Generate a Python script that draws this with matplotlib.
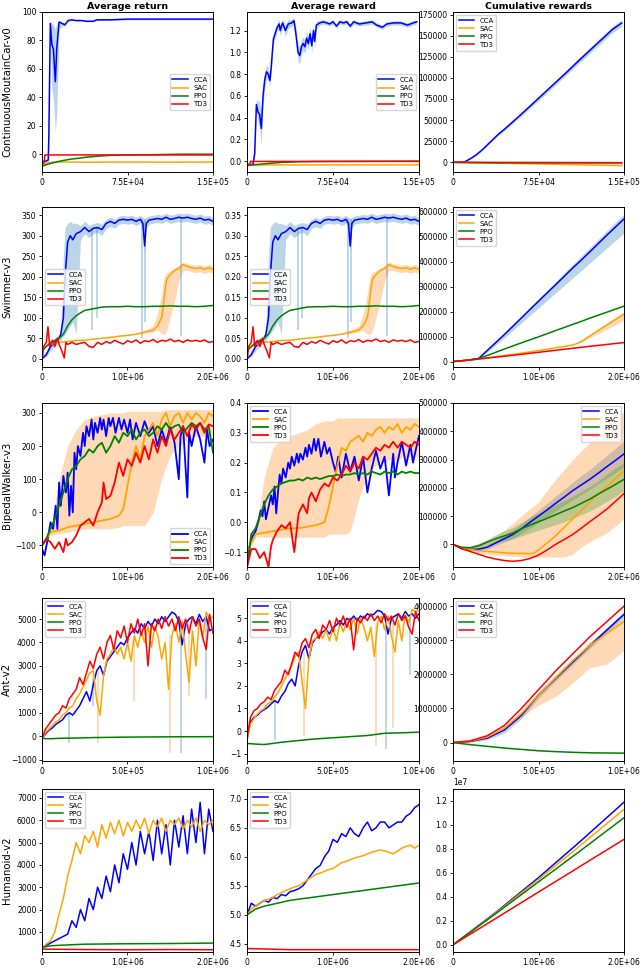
import numpy as np
import matplotlib
matplotlib.use('Agg')
import matplotlib.pyplot as plt
from matplotlib.ticker import FuncFormatter

# ---------------- ContinuousMoutainCar-v0 ----------------
mc_cca_x = [0, 3000, 5500, 6000, 7300, 8700, 10000, 11700, 13000, 15000, 17500, 20000, 23000, 26000,
            30000, 35000, 39000, 42000, 45000, 48000, 52000, 60000, 75000, 90000, 105000, 120000, 135000, 150000]
mc_cca_ret = [-5, -5, -4, 13, 92, 77, 74, 51, 75, 93, 92, 91, 94, 94.5, 94, 94, 93.5, 93.5, 93.5, 94.5,
              94.5, 94.5, 95, 95, 95, 95, 95, 95]
mc_cca_ret_lo = [-5, -5, -5, 10, 85, 45, 40, 15, 30, 88, 90, 90, 93.5, 94, 93.5, 93.5, 93, 93, 93, 94,
                 94, 94, 94.5, 94.5, 94.5, 94.5, 94.5, 94.5]
mc_cca_ret_hi = [-5, -5, -3, 16, 93, 92, 91, 88, 92, 94, 93, 92, 94.5, 95, 94.5, 94.5, 94, 94, 94, 95,
                 95, 95, 95.5, 95.5, 95.5, 95.5, 95.5, 95.5]
mc_sac_x = [0, 5000, 10000, 20000, 40000, 75000, 110000, 150000]
mc_sac_ret = [-8, -6, -5.5, -5.5, -5.6, -5.5, -5.6, -5.5]
mc_ppo_x = [0, 5000, 10000, 15000, 20000, 25000, 30000, 40000, 50000, 60000, 75000, 100000, 120000, 150000]
mc_ppo_ret = [-8.5, -7, -6, -5, -4.2, -3.5, -3, -2, -1.3, -0.8, -0.5, -0.3, 0, 0]
mc_td3_x = [0, 2000, 2500, 150000]
mc_td3_ret = [-7, -6, -0.5, -0.5]

mc_cca_rx = [0, 3000, 5200, 6700, 8200, 9600, 11000, 12500, 14000, 15500, 17000, 18500, 20000, 21000, 23000,
             26000, 28000, 29000, 31000, 33500, 36000, 39000, 41000, 42500, 44500, 46000, 47500, 49000, 50500,
             52000, 53500, 55000, 56500, 58000, 59000, 60500, 63500, 66500, 69500, 72000, 75000, 78000, 81000,
             84000, 87000, 90000, 93000, 98000, 104000, 109000, 113000, 118000, 122000, 128000, 134000, 140000,
             145000, 148000]
mc_cca_rew = [-0.03, -0.03, -0.03, 0.07, 0.52, 0.45, 0.43, 0.30, 0.60, 0.75, 0.82, 0.80, 0.74, 0.85, 1.12,
              1.22, 1.26, 1.20, 1.27, 1.20, 1.26, 1.27, 1.29, 1.18, 1.00, 0.97, 1.05, 1.08, 1.05, 1.13, 1.08,
              1.17, 1.06, 1.20, 1.10, 1.25, 1.27, 1.28, 1.27, 1.26, 1.28, 1.24, 1.28, 1.27, 1.28, 1.24, 1.28,
              1.26, 1.27, 1.28, 1.25, 1.23, 1.26, 1.27, 1.27, 1.25, 1.27, 1.28]
mc_cca_rew_sd = [0, 0, 0.02, 0.05, 0.05, 0.10, 0.12, 0.15, 0.10, 0.08, 0.06, 0.06, 0.05, 0.05, 0.05, 0.04,
                 0.04, 0.05, 0.04, 0.05, 0.04, 0.03, 0.03, 0.06, 0.08, 0.08, 0.07, 0.06, 0.06, 0.06, 0.06,
                 0.06, 0.06, 0.05, 0.05, 0.04, 0.02, 0.02, 0.02, 0.02, 0.02, 0.02, 0.02, 0.02, 0.02, 0.02,
                 0.02, 0.02, 0.02, 0.02, 0.02, 0.02, 0.02, 0.02, 0.02, 0.02, 0.02, 0.02]
mc_sac_rx = [0, 3000, 8000, 150000]
mc_sac_rew = [-0.04, -0.035, -0.035, -0.035]
mc_ppo_rx = [0, 10000, 20000, 30000, 45000, 60000, 150000]
mc_ppo_rew = [-0.04, -0.03, -0.02, -0.012, -0.006, -0.003, 0]
mc_td3_rx = [0, 2500, 3000, 150000]
mc_td3_rew = [-0.04, -0.03, -0.003, -0.003]

mc_cum_x = [0, 5000, 10000, 15000, 20000, 25000, 30000, 35000, 40000, 45000, 50000, 60000, 70000, 80000,
            90000, 100000, 110000, 120000, 130000, 140000, 148000]
mc_cum_cca = [0, 0, 500, 4000, 8500, 14000, 20500, 27000, 33500, 39000, 45000, 57000, 69500, 82000, 94500,
              107000, 120000, 132500, 145000, 157500, 165000]
mc_cum_cca_sd = [0, 0, 200, 500, 800, 1000, 1200, 1400, 1600, 1800, 2000, 2200, 2400, 2600, 2800, 3000,
                 3200, 3400, 3600, 3800, 4000]
mc_cum_sac = [0, -130, -260, -400, -530, -660, -790, -920, -1050, -1190, -1320, -1580, -1840, -2110, -2370,
              -2640, -2900, -3160, -3430, -3690, -3900]
mc_cum_ppo = [0, -150, -250, -350, -420, -480, -520, -560, -590, -610, -620, -640, -650, -660, -660, -660,
              -660, -660, -660, -660, -660]
mc_cum_td3 = [0, -20, -40, -50, -60, -80, -90, -100, -120, -140, -150, -180, -210, -240, -270, -300, -330,
              -360, -390, -420, -440]

# ---------------- Swimmer-v3 ----------------
sw_cca_x = [0, 0.05e6, 0.1e6, 0.15e6, 0.2e6, 0.22e6, 0.25e6, 0.27e6, 0.3e6, 0.33e6, 0.36e6, 0.4e6, 0.45e6,
            0.5e6, 0.55e6, 0.6e6, 0.65e6, 0.7e6, 0.75e6, 0.8e6, 0.85e6, 0.9e6, 0.95e6, 1.0e6, 1.05e6, 1.1e6,
            1.15e6, 1.18e6, 1.2e6, 1.22e6, 1.25e6, 1.3e6, 1.35e6, 1.4e6, 1.45e6, 1.5e6, 1.55e6, 1.6e6, 1.65e6,
            1.7e6, 1.75e6, 1.8e6, 1.85e6, 1.9e6, 1.95e6, 2.0e6]
sw_cca_ret = [0, 10, 30, 40, 50, 60, 100, 200, 285, 300, 290, 305, 310, 320, 310, 318, 320, 315, 330, 335,
              330, 338, 340, 338, 340, 335, 340, 330, 275, 330, 338, 340, 342, 340, 345, 340, 342, 345, 343,
              345, 342, 340, 343, 338, 340, 335]
sw_cca_ret_lo = [0, 5, 20, 30, 40, 45, 55, 60, 70, 80, 90, 60, 290, 305, 295, 305, 308, 300, 318, 322, 318,
                 328, 330, 328, 330, 325, 330, 320, 260, 320, 328, 330, 332, 330, 335, 330, 332, 335, 333, 335,
                 332, 330, 333, 328, 330, 325]
sw_cca_ret_hi = [5, 20, 40, 50, 60, 80, 250, 320, 330, 335, 330, 330, 325, 335, 325, 330, 332, 328, 340, 345,
                 340, 348, 350, 348, 350, 345, 350, 345, 340, 345, 348, 350, 352, 350, 355, 350, 352, 355, 353,
                 355, 352, 350, 353, 348, 350, 345]
sw_cca_rew = [0.000, 0.010, 0.030, 0.040, 0.050, 0.060, 0.100, 0.200, 0.285, 0.300, 0.290, 0.305, 0.310,
              0.320, 0.310, 0.318, 0.320, 0.315, 0.330, 0.335, 0.330, 0.338, 0.340, 0.338, 0.340, 0.335, 0.340,
              0.330, 0.275, 0.330, 0.338, 0.340, 0.342, 0.340, 0.345, 0.340, 0.342, 0.345, 0.343, 0.345, 0.342,
              0.340, 0.343, 0.338, 0.340, 0.335]
sw_cca_rew_lo = [0.000, 0.005, 0.020, 0.030, 0.040, 0.045, 0.055, 0.060, 0.070, 0.080, 0.090, 0.060, 0.290,
                 0.305, 0.295, 0.305, 0.308, 0.300, 0.318, 0.322, 0.318, 0.328, 0.330, 0.328, 0.330, 0.325,
                 0.330, 0.320, 0.260, 0.320, 0.328, 0.330, 0.332, 0.330, 0.335, 0.330, 0.332, 0.335, 0.333,
                 0.335, 0.332, 0.330, 0.333, 0.328, 0.330, 0.325]
sw_cca_rew_hi = [0.005, 0.020, 0.040, 0.050, 0.060, 0.080, 0.250, 0.320, 0.330, 0.335, 0.330, 0.330, 0.325,
                 0.335, 0.325, 0.330, 0.332, 0.328, 0.340, 0.345, 0.340, 0.348, 0.350, 0.348, 0.350, 0.345,
                 0.350, 0.345, 0.340, 0.345, 0.348, 0.350, 0.352, 0.350, 0.355, 0.350, 0.352, 0.355, 0.353,
                 0.355, 0.352, 0.350, 0.353, 0.348, 0.350, 0.345]
sw_spike_x = [0.59e6, 0.64e6, 1.17e6, 1.21e6, 1.63e6]
sw_spike_ret_lo = [70, 100, 50, 90, 55]
sw_spike_ret_hi = [320, 322, 340, 340, 345]
sw_spike_rew_lo = [0.070, 0.100, 0.050, 0.090, 0.055]
sw_spike_rew_hi = [0.320, 0.322, 0.340, 0.340, 0.345]

sw_sac_x = [0, 0.05e6, 0.1e6, 0.2e6, 0.3e6, 0.4e6, 0.5e6, 0.6e6, 0.7e6, 0.8e6, 0.9e6, 1.0e6, 1.1e6, 1.2e6,
            1.3e6, 1.35e6, 1.4e6, 1.42e6, 1.44e6, 1.46e6, 1.5e6, 1.55e6, 1.6e6, 1.65e6, 1.7e6, 1.75e6, 1.8e6,
            1.85e6, 1.9e6, 1.95e6, 2.0e6]
sw_sac_ret = [20, 30, 35, 40, 42, 45, 45, 48, 50, 52, 55, 57, 60, 65, 70, 80, 100, 130, 170, 195, 205, 215,
              220, 230, 225, 222, 220, 222, 218, 222, 218]
sw_sac_ret_lo = [20, 30, 35, 40, 42, 45, 45, 48, 50, 52, 55, 57, 60, 62, 65, 70, 60, 60, 60, 70, 100, 140,
                 190, 215, 215, 212, 210, 212, 208, 212, 208]
sw_sac_ret_hi = [20, 30, 35, 40, 42, 45, 45, 48, 50, 52, 55, 57, 60, 70, 80, 110, 160, 190, 205, 210, 215,
                 222, 228, 235, 232, 230, 228, 230, 226, 230, 226]
sw_sac_rew = [0.020, 0.030, 0.035, 0.040, 0.042, 0.045, 0.045, 0.048, 0.050, 0.052, 0.055, 0.057, 0.060,
              0.065, 0.070, 0.080, 0.100, 0.130, 0.170, 0.195, 0.205, 0.215, 0.220, 0.230, 0.225, 0.222, 0.220,
              0.222, 0.218, 0.222, 0.218]
sw_sac_rew_lo = [0.020, 0.030, 0.035, 0.040, 0.042, 0.045, 0.045, 0.048, 0.050, 0.052, 0.055, 0.057, 0.060,
                 0.062, 0.065, 0.070, 0.060, 0.060, 0.060, 0.070, 0.100, 0.140, 0.190, 0.215, 0.215, 0.212,
                 0.210, 0.212, 0.208, 0.212, 0.208]
sw_sac_rew_hi = [0.020, 0.030, 0.035, 0.040, 0.042, 0.045, 0.045, 0.048, 0.050, 0.052, 0.055, 0.057, 0.060,
                 0.070, 0.080, 0.110, 0.160, 0.190, 0.205, 0.210, 0.215, 0.222, 0.228, 0.235, 0.232, 0.230,
                 0.228, 0.230, 0.226, 0.230, 0.226]
sw_ppo_x = [0, 0.1e6, 0.2e6, 0.25e6, 0.3e6, 0.35e6, 0.4e6, 0.45e6, 0.5e6, 0.55e6, 0.6e6, 0.7e6, 0.8e6, 0.9e6,
            1.0e6, 1.1e6, 1.2e6, 1.3e6, 1.4e6, 1.5e6, 1.6e6, 1.7e6, 1.8e6, 1.9e6, 2.0e6]
sw_ppo_ret = [20, 40, 50, 60, 80, 95, 105, 112, 118, 120, 122, 126, 127, 127, 128, 127, 127, 128, 128, 129,
              128, 128, 127, 128, 130]
sw_ppo_rew = [0.020, 0.040, 0.050, 0.060, 0.080, 0.095, 0.105, 0.112, 0.118, 0.120, 0.122, 0.126, 0.127,
              0.127, 0.128, 0.127, 0.127, 0.128, 0.128, 0.129, 0.128, 0.128, 0.127, 0.128, 0.130]
sw_td3_x = [0, 0.02e6, 0.05e6, 0.07e6, 0.09e6, 0.12e6, 0.15e6, 0.18e6, 0.2e6, 0.23e6, 0.26e6, 0.28e6, 0.3e6,
            0.35e6, 0.4e6, 0.45e6, 0.5e6, 0.55e6, 0.6e6, 0.65e6, 0.7e6, 0.75e6, 0.8e6, 0.85e6, 0.9e6, 0.95e6,
            1.0e6, 1.05e6, 1.1e6, 1.15e6, 1.2e6, 1.25e6, 1.3e6, 1.35e6, 1.4e6, 1.45e6, 1.5e6, 1.55e6, 1.6e6,
            1.65e6, 1.7e6, 1.75e6, 1.8e6, 1.85e6, 1.9e6, 1.95e6, 2.0e6]
sw_td3_ret = [-5, 30, 40, 78, 30, 45, 30, 50, 35, 20, 2, 40, 35, 40, 35, 38, 40, 30, 28, 40, 35, 42, 38, 45,
              40, 36, 44, 40, 46, 38, 44, 42, 47, 40, 45, 43, 48, 42, 45, 40, 46, 43, 45, 42, 46, 40, 42]
sw_td3_rew = [-0.005, 0.030, 0.040, 0.078, 0.030, 0.045, 0.030, 0.050, 0.035, 0.020, 0.002, 0.040, 0.035,
              0.040, 0.035, 0.038, 0.040, 0.030, 0.028, 0.040, 0.035, 0.042, 0.038, 0.045, 0.040, 0.036, 0.044,
              0.040, 0.046, 0.038, 0.044, 0.042, 0.047, 0.040, 0.045, 0.043, 0.048, 0.042, 0.045, 0.040, 0.046,
              0.043, 0.045, 0.042, 0.046, 0.040, 0.042]

sw_cum_x = [0, 0.1e6, 0.2e6, 0.3e6, 0.4e6, 0.6e6, 0.8e6, 1.0e6, 1.2e6, 1.4e6, 1.45e6, 1.5e6, 1.6e6, 1.8e6, 2.0e6]
sw_cum_cca = [0, 3000, 7000, 12000, 44000, 108000, 175000, 242000, 308000, 375000, 391000, 407000, 440000,
              507000, 572000]
sw_cum_cca_lo = [0, 3000, 7000, 11000, 38000, 95000, 155000, 215000, 275000, 335000, 350000, 365000, 395000,
                 455000, 515000]
sw_cum_cca_hi = [0, 3000, 7000, 13000, 47000, 113000, 182000, 252000, 320000, 390000, 406000, 423000, 457000,
                 525000, 592000]
sw_cum_ppo = [0, 3000, 7000, 12000, 24000, 50000, 75000, 99000, 124000, 149000, 155000, 161000, 174000,
              198000, 222000]
sw_cum_sac = [0, 3000, 6000, 10000, 14500, 24000, 33500, 44000, 55000, 66000, 72000, 80000, 103000, 147000,
              190000]
sw_cum_sac_lo = [0, 3000, 6000, 10000, 14500, 24000, 33500, 44000, 55000, 66000, 72000, 77000, 95000, 130000,
                 165000]
sw_cum_sac_hi = [0, 3000, 6000, 10000, 14500, 24000, 33500, 44000, 55000, 66000, 72000, 82000, 108000,
                 155000, 200000]
sw_cum_td3 = [0, 2500, 6000, 10000, 14000, 21000, 29000, 37000, 45000, 53000, 55000, 57000, 61000, 68500, 76000]

# ---------------- BipedalWalker-v3 ----------------
bw_cca_x = [0, 0.03e6, 0.06e6, 0.1e6, 0.13e6, 0.16e6, 0.18e6, 0.2e6, 0.22e6, 0.25e6, 0.28e6, 0.3e6, 0.32e6,
            0.34e6, 0.36e6, 0.38e6, 0.4e6, 0.42e6, 0.45e6, 0.48e6, 0.5e6, 0.52e6, 0.55e6, 0.58e6, 0.6e6, 0.62e6,
            0.65e6, 0.68e6, 0.7e6, 0.72e6, 0.75e6, 0.78e6, 0.8e6, 0.83e6, 0.86e6, 0.9e6, 0.93e6, 0.96e6, 1.0e6,
            1.03e6, 1.06e6, 1.1e6, 1.15e6, 1.2e6, 1.25e6, 1.3e6, 1.35e6, 1.4e6, 1.45e6, 1.5e6, 1.55e6, 1.6e6,
            1.62e6, 1.65e6, 1.7e6, 1.72e6, 1.75e6, 1.8e6, 1.85e6, 1.9e6, 1.93e6, 1.96e6, 2.0e6]
bw_cca_ret = [-110, -130, -90, -30, -50, 20, -50, 90, 20, 110, 60, 120, -10, 80, 0, 180, 130, 200, 170, 240,
              200, 260, 230, 280, 220, 270, 240, 285, 250, 280, 230, 285, 260, 285, 240, 285, 250, 280, 240,
              280, 220, 270, 230, 275, 240, 260, 200, 250, 210, 260, 210, 100, 230, 260, 45, 240, 200, 260,
              220, 150, 250, 200, 220]
bw_cca_rew = [-0.15, -0.08, -0.05, -0.03, 0.0, 0.04, 0.02, 0.07, 0.01, 0.05, 0.09, 0.06, 0.12, 0.03, 0.10,
              0.16, 0.13, 0.18, 0.15, 0.20, 0.18, 0.22, 0.19, 0.23, 0.20, 0.23, 0.21, 0.25, 0.22, 0.26, 0.23,
              0.28, 0.24, 0.28, 0.22, 0.27, 0.23, 0.25, 0.20, 0.17, 0.22, 0.15, 0.23, 0.17, 0.22, 0.14, 0.22,
              0.10, 0.18, 0.24, 0.18, 0.22, 0.17, 0.09, 0.23, 0.15, 0.20, 0.27, 0.19, 0.26, 0.20, 0.24, 0.29]
bw_sac_x = [0, 0.1e6, 0.2e6, 0.3e6, 0.4e6, 0.5e6, 0.6e6, 0.7e6, 0.8e6, 0.9e6, 0.95e6, 1.0e6, 1.05e6, 1.1e6,
            1.15e6, 1.2e6, 1.25e6, 1.3e6, 1.35e6, 1.4e6, 1.45e6, 1.5e6, 1.55e6, 1.6e6, 1.65e6, 1.7e6, 1.75e6,
            1.8e6, 1.85e6, 1.9e6, 1.95e6, 2.0e6]
bw_sac_ret = [-100, -60, -55, -45, -40, -35, -30, -25, -20, -10, 10, 80, 150, 200, 160, 230, 250, 270, 230,
              280, 300, 260, 290, 300, 270, 300, 280, 300, 290, 270, 300, 290]
bw_sac_ret_lo = [-100, -70, -65, -60, -55, -50, -50, -50, -50, -45, -40, -40, -40, -40, -40, -40, -20, 0, 50,
                 100, 140, 170, 190, 200, 210, 220, 225, 230, 230, 230, 230, 230]
bw_sac_ret_hi = [-100, -50, 100, 200, 250, 280, 290, 295, 300, 300, 300, 305, 305, 305, 305, 305, 305, 305,
                 305, 305, 310, 310, 310, 310, 310, 310, 310, 310, 310, 310, 310, 310]
bw_sac_rew = [-0.10, -0.04, -0.035, -0.03, -0.025, -0.02, -0.02, -0.015, -0.01, 0.0, 0.05, 0.12, 0.19, 0.25,
              0.24, 0.27, 0.28, 0.29, 0.27, 0.30, 0.29, 0.31, 0.32, 0.30, 0.32, 0.31, 0.33, 0.30, 0.32, 0.31,
              0.33, 0.32]
bw_sac_rew_lo = [-0.10, -0.05, -0.05, -0.05, -0.05, -0.05, -0.05, -0.05, -0.05, -0.05, -0.04, -0.04, -0.04,
                 -0.04, -0.04, -0.03, 0.02, 0.08, 0.12, 0.16, 0.18, 0.19, 0.20, 0.20, 0.21, 0.21, 0.21, 0.22,
                 0.22, 0.22, 0.22, 0.22]
bw_sac_rew_hi = [-0.10, -0.03, 0.15, 0.25, 0.28, 0.29, 0.30, 0.31, 0.33, 0.34, 0.34, 0.34, 0.35, 0.35, 0.35,
                 0.35, 0.35, 0.35, 0.35, 0.35, 0.35, 0.35, 0.35, 0.35, 0.35, 0.35, 0.35, 0.35, 0.35, 0.35,
                 0.35, 0.35]
bw_ppo_x = [0, 0.05e6, 0.1e6, 0.15e6, 0.2e6, 0.25e6, 0.3e6, 0.35e6, 0.4e6, 0.45e6, 0.5e6, 0.55e6, 0.6e6,
            0.65e6, 0.7e6, 0.75e6, 0.8e6, 0.85e6, 0.9e6, 0.95e6, 1.0e6, 1.05e6, 1.1e6, 1.15e6, 1.2e6, 1.25e6,
            1.3e6, 1.35e6, 1.4e6, 1.45e6, 1.5e6, 1.55e6, 1.6e6, 1.65e6, 1.7e6, 1.75e6, 1.8e6, 1.85e6, 1.9e6,
            1.95e6, 2.0e6]
bw_ppo_ret = [-100, -80, -50, -20, 20, 60, 100, 130, 140, 160, 170, 190, 180, 200, 210, 180, 200, 230, 210,
              240, 230, 250, 220, 240, 250, 230, 240, 260, 250, 270, 250, 260, 265, 240, 255, 270, 260, 270,
              250, 260, 180]
bw_ppo_rew = [-0.15, -0.04, -0.02, 0.02, 0.06, 0.09, 0.11, 0.12, 0.13, 0.135, 0.14, 0.14, 0.145, 0.14, 0.15,
              0.145, 0.15, 0.145, 0.15, 0.155, 0.155, 0.16, 0.155, 0.16, 0.16, 0.165, 0.16, 0.165, 0.16, 0.17,
              0.165, 0.16, 0.17, 0.165, 0.17, 0.16, 0.17, 0.165, 0.17, 0.165, 0.165]
bw_td3_x = [0, 0.05e6, 0.1e6, 0.15e6, 0.2e6, 0.25e6, 0.28e6, 0.3e6, 0.35e6, 0.4e6, 0.45e6, 0.5e6, 0.55e6,
            0.6e6, 0.65e6, 0.7e6, 0.72e6, 0.75e6, 0.8e6, 0.85e6, 0.9e6, 0.95e6, 1.0e6, 1.05e6, 1.1e6, 1.15e6,
            1.2e6, 1.25e6, 1.3e6, 1.35e6, 1.4e6, 1.45e6, 1.5e6, 1.55e6, 1.6e6, 1.65e6, 1.7e6, 1.75e6, 1.8e6,
            1.85e6, 1.9e6, 1.95e6, 2.0e6]
bw_td3_ret = [-100, -80, -90, -110, -90, -120, -80, -100, -90, -70, -40, -30, -20, -40, 0, 30, 90, 40, 50,
              90, 150, 110, 160, 140, 180, 150, 200, 160, 220, 180, 230, 200, 250, 220, 240, 260, 230, 265, 250,
              270, 240, 265, 260]
bw_td3_rew = [-0.15, -0.09, -0.09, -0.12, -0.10, -0.15, -0.08, -0.06, -0.03, -0.01, -0.02, 0.0, -0.10, 0.03,
              0.06, 0.03, 0.08, 0.10, 0.07, 0.11, 0.13, 0.12, 0.15, 0.14, 0.16, 0.19, 0.17, 0.20, 0.18, 0.22,
              0.21, 0.23, 0.25, 0.24, 0.26, 0.25, 0.27, 0.25, 0.27, 0.26, 0.25, 0.27, 0.26]

bw_cum_x = [0, 0.1e6, 0.2e6, 0.3e6, 0.4e6, 0.5e6, 0.6e6, 0.7e6, 0.8e6, 0.9e6, 0.95e6, 1.0e6, 1.1e6, 1.2e6,
            1.3e6, 1.4e6, 1.5e6, 1.6e6, 1.7e6, 1.8e6, 1.9e6, 2.0e6]
bw_cum_cca = [0, -15000, -18000, -17000, -10000, 5000, 20000, 35000, 55000, 78000, 89000, 100000, 122000,
              145000, 167000, 190000, 210000, 230000, 252000, 275000, 297000, 320000]
bw_cum_cca_lo = [0, -17000, -22000, -22000, -17000, -5000, 8000, 20000, 38000, 58000, 68000, 78000, 98000,
                 118000, 138000, 158000, 176000, 194000, 214000, 234000, 254000, 274000]
bw_cum_cca_hi = [0, -13000, -14000, -10000, -2000, 15000, 33000, 50000, 72000, 97000, 109000, 121000, 145000,
                 170000, 195000, 220000, 243000, 265000, 290000, 315000, 340000, 365000]
bw_cum_ppo = [0, -10000, -12000, -5000, 8000, 20000, 30000, 40000, 55000, 68000, 74000, 80000, 92000, 105000,
              118000, 130000, 145000, 160000, 178000, 195000, 212000, 230000]
bw_cum_ppo_lo = [0, -12000, -16000, -12000, -3000, 5000, 12000, 20000, 30000, 40000, 45000, 50000, 60000,
                 70000, 80000, 92000, 105000, 118000, 135000, 152000, 170000, 190000]
bw_cum_ppo_hi = [0, -8000, -8000, 2000, 18000, 35000, 48000, 60000, 78000, 95000, 103000, 110000, 125000,
                 140000, 155000, 170000, 188000, 205000, 225000, 248000, 270000, 290000]
bw_cum_sac = [0, -12000, -18000, -22000, -25000, -27000, -30000, -31000, -32000, -33000, -30000, -20000, 5000,
              30000, 60000, 90000, 120000, 150000, 178000, 205000, 232000, 260000]
bw_cum_sac_lo = [0, -15000, -25000, -30000, -35000, -38000, -40000, -42000, -45000, -45000, -45000, -45000,
                 -45000, -45000, -45000, -35000, -10000, 10000, 25000, 40000, 65000, 90000]
bw_cum_sac_hi = [0, -8000, -5000, 5000, 15000, 30000, 50000, 75000, 100000, 125000, 137000, 150000, 190000,
                 230000, 265000, 300000, 330000, 360000, 390000, 420000, 445000, 470000]
bw_cum_td3 = [0, -15000, -25000, -35000, -45000, -52000, -57000, -60000, -57000, -50000, -44000, -38000,
              -20000, 0, 17000, 35000, 57000, 80000, 102000, 125000, 152000, 180000]

# ---------------- Ant-v2 ----------------
an_x = [0, 0.02e6, 0.04e6, 0.06e6, 0.08e6, 0.1e6, 0.12e6, 0.14e6, 0.16e6, 0.18e6, 0.2e6, 0.22e6, 0.24e6,
        0.26e6, 0.28e6, 0.3e6, 0.32e6, 0.34e6, 0.36e6, 0.38e6, 0.4e6, 0.42e6, 0.44e6, 0.46e6, 0.48e6, 0.5e6,
        0.52e6, 0.54e6, 0.56e6, 0.58e6, 0.6e6, 0.62e6, 0.64e6, 0.66e6, 0.68e6, 0.7e6, 0.72e6, 0.74e6, 0.76e6,
        0.78e6, 0.8e6, 0.82e6, 0.84e6, 0.86e6, 0.88e6, 0.9e6, 0.92e6, 0.94e6, 0.96e6, 0.98e6, 1.0e6]
an_cca_ret = [-100, 100, 250, 350, 500, 600, 700, 900, 1000, 900, 1100, 1300, 1600, 1900, 1500, 2200, 2800,
              3000, 2600, 3200, 3400, 3600, 3800, 4000, 3900, 4200, 4400, 4600, 4400, 4800, 4600, 4900, 4700,
              5000, 4800, 5100, 4900, 5100, 5300, 5200, 4900, 3900, 4800, 5000, 5100, 4800, 5200, 4900, 5100,
              4500, 4600]
an_sac_ret = [-100, 150, 300, 450, 600, 700, 900, 1000, 1200, 1300, 1600, 1800, 2100, 2400, 2700, 2800, 1500,
              900, 2600, 3300, 3500, 3800, 3500, 3800, 3300, 4000, 3200, 4300, 3800, 4500, 4000, 4700, 3800,
              4700, 4200, 3300, 4000, 2000, 4300, 4800, 4000, 4900, 3500, 2300, 4500, 3000, 5000, 4200, 5300,
              5000, 5100]
an_td3_ret = [-100, 300, 500, 700, 900, 1000, 1300, 1200, 1600, 1800, 2000, 2500, 2200, 2700, 3200, 2900,
              3500, 3800, 3300, 4000, 4300, 3700, 4500, 4200, 4700, 4000, 4800, 4400, 5000, 4300, 4800, 3000,
              4800, 4500, 5000, 4600, 5100, 4700, 5000, 4500, 5100, 4600, 5000, 4400, 5100, 4700, 5000, 4200,
              3700, 5200, 4400]
an_ppo_x = [0, 0.05e6, 0.1e6, 0.2e6, 0.3e6, 0.4e6, 0.5e6, 0.6e6, 0.7e6, 0.8e6, 0.9e6, 1.0e6]
an_ppo_ret = [-100, -110, -90, -80, -60, -50, -40, -35, -30, -25, -25, -20]
an_cca_spike_x = [0.16e6, 0.3e6, 0.815e6, 0.96e6]
an_cca_spike_ret = [-300, 1300, -700, 1600]
an_cca_spike_ret_hi = [1000, 2500, 5000, 5100]
an_sac_spike_x = [0.33e6, 0.54e6, 0.75e6, 0.86e6]
an_sac_spike_ret = [-300, 1500, -700, 1700]
an_sac_spike_ret_hi = [2800, 4200, 4300, 4800]

an_cca_rew = [-0.4, 0.4, 0.6, 0.7, 0.85, 0.95, 1.05, 1.2, 1.35, 1.25, 1.55, 1.75, 2.1, 2.3, 2.0, 2.9, 3.5,
              3.8, 3.2, 3.9, 4.1, 4.2, 4.4, 4.5, 4.3, 4.6, 4.7, 4.9, 4.7, 5.0, 4.9, 5.1, 4.9, 5.1, 5.0, 5.2,
              5.1, 5.2, 5.35, 5.3, 5.1, 4.3, 5.0, 5.1, 5.2, 5.0, 5.3, 5.1, 5.2, 5.0, 5.2]
an_sac_rew = [-0.4, 0.3, 0.55, 0.75, 0.9, 1.0, 1.2, 1.3, 1.5, 1.7, 2.0, 2.3, 2.6, 2.9, 3.3, 3.5, 2.2, 1.0,
              3.2, 4.0, 4.1, 4.4, 4.1, 4.5, 4.0, 4.6, 4.0, 4.8, 4.4, 4.9, 4.5, 5.0, 4.3, 5.0, 4.6, 4.0, 4.6,
              3.3, 4.8, 5.1, 4.5, 5.1, 4.2, 3.5, 4.9, 4.0, 5.2, 4.8, 5.4, 5.3, 5.35]
an_td3_rew = [-0.3, 0.6, 0.9, 1.0, 1.2, 1.3, 1.5, 1.4, 1.8, 2.0, 2.2, 2.7, 2.5, 3.0, 3.5, 3.3, 3.9, 4.1, 3.7,
              4.3, 4.5, 4.1, 4.7, 4.5, 4.9, 4.4, 5.0, 4.7, 5.1, 4.6, 5.0, 3.6, 5.0, 4.8, 5.1, 4.9, 5.2, 4.9,
              5.1, 4.8, 5.2, 4.9, 5.1, 4.7, 5.2, 4.9, 5.1, 4.6, 4.3, 5.3, 4.9]
an_ppo_rew = [-0.55, -0.58, -0.6, -0.5, -0.42, -0.35, -0.3, -0.25, -0.2, -0.1, -0.08, -0.05]
an_cca_spike_rx = [0.16e6, 0.81e6, 0.95e6]
an_cca_spike_rew = [-0.4, -0.8, 2.5]
an_cca_spike_rew_hi = [1.35, 5.1, 5.2]
an_sac_spike_rx = [0.33e6, 0.75e6, 0.85e6]
an_sac_spike_rew = [-0.2, -0.65, 0.15]
an_sac_spike_rew_hi = [3.5, 4.8, 4.9]

an_cum_x = [0, 0.1e6, 0.2e6, 0.3e6, 0.4e6, 0.5e6, 0.6e6, 0.7e6, 0.8e6, 0.9e6, 1.0e6]
an_cum_cca = [0, 30000, 130000, 370000, 800000, 1400000, 1880000, 2360000, 2840000, 3300000, 3760000]
an_cum_cca_lo = [0, 20000, 80000, 280000, 700000, 1300000, 1800000, 2280000, 2760000, 3220000, 3680000]
an_cum_cca_hi = [0, 40000, 160000, 420000, 860000, 1460000, 1960000, 2440000, 2920000, 3380000, 3840000]
an_cum_sac = [0, 40000, 160000, 420000, 850000, 1400000, 1900000, 2400000, 2850000, 3200000, 3550000]
an_cum_sac_lo = [0, 30000, 130000, 370000, 750000, 1100000, 1350000, 1750000, 2200000, 2300000, 2700000]
an_cum_sac_hi = [0, 50000, 190000, 470000, 920000, 1480000, 1980000, 2480000, 2950000, 3330000, 3680000]
an_cum_td3 = [0, 50000, 200000, 500000, 1000000, 1550000, 2100000, 2600000, 3100000, 3550000, 4000000]
an_cum_ppo = [0, -60000, -110000, -160000, -200000, -240000, -265000, -285000, -300000, -305000, -310000]

# ---------------- Humanoid-v2 ----------------
hu_x = [0, 0.05e6, 0.1e6, 0.15e6, 0.2e6, 0.25e6, 0.3e6, 0.35e6, 0.4e6, 0.45e6, 0.5e6, 0.55e6, 0.6e6, 0.65e6,
        0.7e6, 0.75e6, 0.8e6, 0.85e6, 0.9e6, 0.95e6, 1.0e6, 1.05e6, 1.1e6, 1.15e6, 1.2e6, 1.25e6, 1.3e6,
        1.35e6, 1.4e6, 1.45e6, 1.5e6, 1.55e6, 1.6e6, 1.65e6, 1.7e6, 1.75e6, 1.8e6, 1.85e6, 1.9e6, 1.95e6, 2.0e6]
hu_cca_ret = [300, 400, 500, 600, 700, 800, 900, 1500, 1200, 2000, 1500, 2500, 2000, 3000, 2500, 3500, 2800,
              4000, 3200, 4500, 3800, 5000, 4000, 5500, 4500, 5500, 4200, 6000, 4500, 5800, 4000, 6000, 4800,
              6200, 4500, 6500, 5000, 6800, 4500, 6500, 5500]
hu_sac_ret = [300, 450, 600, 1000, 1800, 2500, 3500, 4200, 5000, 4500, 5300, 5000, 5500, 4800, 5800, 5200,
              5900, 5400, 6000, 5300, 5900, 5500, 6000, 5600, 6100, 5400, 6000, 5700, 6100, 5500, 6000, 5800,
              6100, 5600, 6000, 5700, 6100, 5500, 6000, 5800, 6000]
hu_ppo_x = [0, 0.1e6, 0.2e6, 0.5e6, 1.0e6, 1.5e6, 2.0e6]
hu_ppo_ret = [300, 380, 400, 450, 470, 480, 500]
hu_td3_x = [0, 0.5e6, 1.0e6, 1.5e6, 2.0e6]
hu_td3_ret = [230, 210, 200, 210, 200]

hu_cca_rew = [5.0, 5.2, 5.15, 5.2, 5.25, 5.22, 5.3, 5.28, 5.35, 5.33, 5.4, 5.42, 5.45, 5.5, 5.6, 5.7, 5.8,
              5.85, 6.0, 6.1, 6.3, 6.25, 6.4, 6.35, 6.5, 6.4, 6.35, 6.5, 6.6, 6.45, 6.5, 6.6, 6.6, 6.5, 6.55,
              6.6, 6.6, 6.7, 6.75, 6.85, 6.9]
hu_sac_rew = [5.0, 5.1, 5.15, 5.2, 5.25, 5.27, 5.3, 5.35, 5.38, 5.42, 5.45, 5.48, 5.5, 5.55, 5.6, 5.65, 5.7,
              5.72, 5.75, 5.78, 5.8, 5.85, 5.9, 5.92, 5.95, 5.98, 6.0, 6.02, 6.05, 6.08, 6.1, 6.12, 6.1, 6.08,
              6.05, 6.1, 6.15, 6.18, 6.2, 6.15, 6.2]
hu_ppo_rew = [5.0, 5.1, 5.15, 5.25, 5.35, 5.45, 5.55]
hu_td3_rew = [4.42, 4.4, 4.4, 4.4, 4.4]

hu_cum_x = [0, 0.5e6, 1.0e6, 1.5e6, 2.0e6]
hu_cum_cca = [0, 2.7e6, 5.6e6, 8.7e6, 11.9e6]
hu_cum_sac = [0, 2.65e6, 5.45e6, 8.35e6, 11.3e6]
hu_cum_ppo = [0, 2.6e6, 5.25e6, 7.9e6, 10.6e6]
hu_cum_td3 = [0, 2.2e6, 4.4e6, 6.6e6, 8.8e6]

# ---------------- labels ----------------
col_titles = ["Average return", "Average reward", "Cumulative rewards"]
env_names = ["ContinuousMoutainCar-v0", "Swimmer-v3", "BipedalWalker-v3", "Ant-v2", "Humanoid-v2"]

# ---------------- drawing ----------------
LINE = {'CCA': 'blue', 'SAC': 'orange', 'PPO': 'green', 'TD3': 'red'}
BAND = {'CCA': '#1f77b4', 'SAC': '#ff7f0e', 'PPO': '#2ca02c'}
TICK_FS = 5.5
W, H = 640, 969
fig = plt.figure(figsize=(6.4, 9.69), dpi=100)
col_px = [(42, 213), (247, 419), (453, 624)]
row_px = [(12, 172), (207, 367), (403, 567), (598, 761), (789, 952)]


def make_ax(r, c):
    x0, x1 = col_px[c]
    y0, y1 = row_px[r]
    return fig.add_axes([x0 / W, 1 - y1 / H, (x1 - x0) / W, (y1 - y0) / H])


def xfmt(v, pos):
    return '0' if abs(v) < 1e-9 else '{:.1E}'.format(v)


def ifmt(v, pos):
    return '{:d}'.format(int(round(v)))


def panel(r, c, lines, bands=(), spikes=(), xmax=2e6, xticks=(0, 1e6, 2e6), ylim=None, yticks=None,
          loc='upper left', lw=1.1, plain=True, legend=True):
    ax = make_ax(r, c)
    for (x, lo, hi, name) in bands:
        ax.fill_between(x, lo, hi, color=BAND[name], alpha=0.3, lw=0)
    for (xs, lo, hi, name) in spikes:
        ax.vlines(xs, lo, hi, color=BAND[name], alpha=0.3, lw=1.4)
    for (x, y, name) in lines:
        ax.plot(x, y, color=LINE[name], lw=lw, label=name)
    ax.set_xlim(0, xmax)
    ax.set_xticks(list(xticks))
    ax.xaxis.set_major_formatter(FuncFormatter(xfmt))
    if ylim is not None:
        ax.set_ylim(*ylim)
    if yticks is not None:
        ax.set_yticks(list(yticks))
    if plain:
        ax.ticklabel_format(axis='y', style='plain', useOffset=False)
    ax.tick_params(labelsize=TICK_FS, length=2.5, width=0.6, pad=1.5)
    for s in ax.spines.values():
        s.set_linewidth(0.7)
    if legend:
        ax.legend(loc=loc, fontsize=5, handlelength=2.2, borderpad=0.4, labelspacing=0.3,
                  handletextpad=0.8, borderaxespad=0.4, frameon=True, fancybox=True)
    if r == 0:
        ax.set_title(col_titles[c], fontsize=6.8, fontweight='bold', pad=2)
    if c == 0:
        ax.set_ylabel(env_names[r], fontsize=7.3)
        ax.yaxis.set_label_coords(-0.175, 0.5)
    return ax


# Row 1: MountainCar
mcx = dict(xmax=1.5e5, xticks=(0, 7.5e4, 1.5e5))
panel(0, 0, [(mc_cca_x, mc_cca_ret, 'CCA'), (mc_sac_x, mc_sac_ret, 'SAC'), (mc_ppo_x, mc_ppo_ret, 'PPO'),
             (mc_td3_x, mc_td3_ret, 'TD3')],
      bands=[(mc_cca_x, mc_cca_ret_lo, mc_cca_ret_hi, 'CCA')],
      ylim=(-12.5, 100), yticks=range(0, 101, 20), loc='center right', **mcx)
rew = np.array(mc_cca_rew)
sd = np.array(mc_cca_rew_sd)
panel(0, 1, [(mc_cca_rx, mc_cca_rew, 'CCA'), (mc_sac_rx, mc_sac_rew, 'SAC'), (mc_ppo_rx, mc_ppo_rew, 'PPO'),
             (mc_td3_rx, mc_td3_rew, 'TD3')],
      bands=[(mc_cca_rx, rew - sd, rew + sd, 'CCA')],
      ylim=(-0.1, 1.37), yticks=[0.0, 0.2, 0.4, 0.6, 0.8, 1.0, 1.2], loc='center right', **mcx)
cum = np.array(mc_cum_cca)
csd = np.array(mc_cum_cca_sd)
panel(0, 2, [(mc_cum_x, mc_cum_cca, 'CCA'), (mc_cum_x, mc_cum_sac, 'SAC'), (mc_cum_x, mc_cum_ppo, 'PPO'),
             (mc_cum_x, mc_cum_td3, 'TD3')],
      bands=[(mc_cum_x, cum - csd, cum + csd, 'CCA')],
      ylim=(-11500, 178000), yticks=range(0, 175001, 25000), loc='upper left', **mcx)

# Row 2: Swimmer
panel(1, 0, [(sw_cca_x, sw_cca_ret, 'CCA'), (sw_sac_x, sw_sac_ret, 'SAC'), (sw_ppo_x, sw_ppo_ret, 'PPO'),
             (sw_td3_x, sw_td3_ret, 'TD3')],
      bands=[(sw_cca_x, sw_cca_ret_lo, sw_cca_ret_hi, 'CCA'), (sw_sac_x, sw_sac_ret_lo, sw_sac_ret_hi, 'SAC')],
      spikes=[(sw_spike_x, sw_spike_ret_lo, sw_spike_ret_hi, 'CCA')],
      ylim=(-20, 370), yticks=range(0, 351, 50), loc='center left')
panel(1, 1, [(sw_cca_x, sw_cca_rew, 'CCA'), (sw_sac_x, sw_sac_rew, 'SAC'), (sw_ppo_x, sw_ppo_rew, 'PPO'),
             (sw_td3_x, sw_td3_rew, 'TD3')],
      bands=[(sw_cca_x, sw_cca_rew_lo, sw_cca_rew_hi, 'CCA'), (sw_sac_x, sw_sac_rew_lo, sw_sac_rew_hi, 'SAC')],
      spikes=[(sw_spike_x, sw_spike_rew_lo, sw_spike_rew_hi, 'CCA')],
      ylim=(-0.02, 0.37), yticks=[0.0, 0.05, 0.1, 0.15, 0.2, 0.25, 0.3, 0.35], loc='center left')
ax = panel(1, 2, [(sw_cum_x, sw_cum_cca, 'CCA'), (sw_cum_x, sw_cum_sac, 'SAC'), (sw_cum_x, sw_cum_ppo, 'PPO'),
                  (sw_cum_x, sw_cum_td3, 'TD3')],
           bands=[(sw_cum_x, sw_cum_cca_lo, sw_cum_cca_hi, 'CCA'), (sw_cum_x, sw_cum_sac_lo, sw_cum_sac_hi, 'SAC')],
           ylim=(-22000, 620000), yticks=range(0, 600001, 100000), loc='upper left')
ax.yaxis.set_major_formatter(FuncFormatter(ifmt))

# Row 3: BipedalWalker
panel(2, 0, [(bw_cca_x, bw_cca_ret, 'CCA'), (bw_sac_x, bw_sac_ret, 'SAC'), (bw_ppo_x, bw_ppo_ret, 'PPO'),
             (bw_td3_x, bw_td3_ret, 'TD3')],
      bands=[(bw_sac_x, bw_sac_ret_lo, bw_sac_ret_hi, 'SAC')],
      ylim=(-165, 330), yticks=[-100, 0, 100, 200, 300], loc='lower right', lw=1.3)
panel(2, 1, [(bw_cca_x, bw_cca_rew, 'CCA'), (bw_sac_x, bw_sac_rew, 'SAC'), (bw_ppo_x, bw_ppo_rew, 'PPO'),
             (bw_td3_x, bw_td3_rew, 'TD3')],
      bands=[(bw_sac_x, bw_sac_rew_lo, bw_sac_rew_hi, 'SAC')],
      ylim=(-0.15, 0.4), yticks=[-0.1, 0.0, 0.1, 0.2, 0.3, 0.4], loc='upper left', lw=1.3)
ax = panel(2, 2, [(bw_cum_x, bw_cum_cca, 'CCA'), (bw_cum_x, bw_cum_sac, 'SAC'), (bw_cum_x, bw_cum_ppo, 'PPO'),
                  (bw_cum_x, bw_cum_td3, 'TD3')],
           bands=[(bw_cum_x, bw_cum_cca_lo, bw_cum_cca_hi, 'CCA'), (bw_cum_x, bw_cum_sac_lo, bw_cum_sac_hi, 'SAC'),
                  (bw_cum_x, bw_cum_ppo_lo, bw_cum_ppo_hi, 'PPO')],
           ylim=(-80000, 500000), yticks=range(0, 500001, 100000), loc='upper right')
ax.yaxis.set_major_formatter(FuncFormatter(ifmt))

# Row 4: Ant
anx = dict(xmax=1e6, xticks=(0, 5e5, 1e6))
panel(3, 0, [(an_x, an_cca_ret, 'CCA'), (an_x, an_sac_ret, 'SAC'), (an_ppo_x, an_ppo_ret, 'PPO'),
             (an_x, an_td3_ret, 'TD3')],
      spikes=[(an_cca_spike_x, an_cca_spike_ret, an_cca_spike_ret_hi, 'CCA'),
              (an_sac_spike_x, an_sac_spike_ret, an_sac_spike_ret_hi, 'SAC')],
      ylim=(-1060, 5900), yticks=range(-1000, 5001, 1000), loc='upper left', **anx)
panel(3, 1, [(an_x, an_cca_rew, 'CCA'), (an_x, an_sac_rew, 'SAC'), (an_ppo_x, an_ppo_rew, 'PPO'),
             (an_x, an_td3_rew, 'TD3')],
      spikes=[(an_cca_spike_rx, an_cca_spike_rew, an_cca_spike_rew_hi, 'CCA'),
              (an_sac_spike_rx, an_sac_spike_rew, an_sac_spike_rew_hi, 'SAC')],
      ylim=(-1.33, 5.9), yticks=range(-1, 6), loc='upper left', **anx)
ax = panel(3, 2, [(an_cum_x, an_cum_cca, 'CCA'), (an_cum_x, an_cum_sac, 'SAC'), (an_cum_x, an_cum_ppo, 'PPO'),
                  (an_cum_x, an_cum_td3, 'TD3')],
           bands=[(an_cum_x, an_cum_cca_lo, an_cum_cca_hi, 'CCA'), (an_cum_x, an_cum_sac_lo, an_cum_sac_hi, 'SAC')],
           ylim=(-540000, 4240000), yticks=range(0, 4000001, 1000000), loc='upper left', **anx)
ax.yaxis.set_major_formatter(FuncFormatter(ifmt))

# Row 5: Humanoid
panel(4, 0, [(hu_x, hu_cca_ret, 'CCA'), (hu_x, hu_sac_ret, 'SAC'), (hu_ppo_x, hu_ppo_ret, 'PPO'),
             (hu_td3_x, hu_td3_ret, 'TD3')],
      ylim=(100, 7400), yticks=range(1000, 7001, 1000), loc='upper left')
panel(4, 1, [(hu_x, hu_cca_rew, 'CCA'), (hu_x, hu_sac_rew, 'SAC'), (hu_ppo_x, hu_ppo_rew, 'PPO'),
             (hu_td3_x, hu_td3_rew, 'TD3')],
      ylim=(4.36, 7.17), yticks=[4.5, 5.0, 5.5, 6.0, 6.5, 7.0], loc='upper left')
ax = panel(4, 2, [(hu_cum_x, hu_cum_cca, 'CCA'), (hu_cum_x, hu_cum_sac, 'SAC'), (hu_cum_x, hu_cum_ppo, 'PPO'),
                  (hu_cum_x, hu_cum_td3, 'TD3')],
           ylim=(-0.06e7, 1.3e7), yticks=[0, 0.2e7, 0.4e7, 0.6e7, 0.8e7, 1.0e7, 1.2e7], plain=False, legend=False)
ax.ticklabel_format(axis='y', style='sci', scilimits=(0, 0))
ax.yaxis.get_offset_text().set_fontsize(TICK_FS)

fig.savefig('out.png', dpi=100)
